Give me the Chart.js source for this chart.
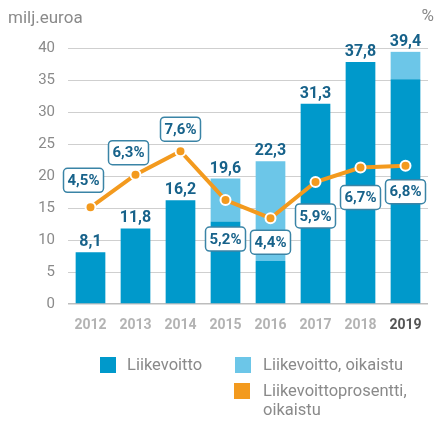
<!DOCTYPE html>
<html>
<head>
<meta charset="utf-8">
<script src="https://cdn.jsdelivr.net/npm/chart.js@4.4.1/dist/chart.umd.min.js"></script>
<style>
  body { margin: 0; background: #fff; }
  #wrap { position: relative; width: 435px; height: 423px; }
  .lg { position: absolute; font: 16.5px Roboto, sans-serif; color: #8a8a8a; line-height: 19px; }
  .sw { position: absolute; width: 16px; height: 16px; }
</style>
</head>
<body>
<div id="wrap">
  <canvas id="chart" width="435" height="423"></canvas>
  <div id="legend"></div>
</div>
<script>
const vuodet = ['2012', '2013', '2014', '2015', '2016', '2017', '2018', '2019'];
const liikevoitto = [8.1, 11.8, 16.2, 12.9, 6.7, 31.3, 37.8, 35.1];
const liikevoittoOikaistu = [0, 0, 0, 6.7, 15.6, 0, 0, 4.3];
const prosentti = [4.5, 6.3, 7.6, 4.9, 3.9, 5.9, 6.7, 6.8];
const prosenttiTekstit = ['4,5%', '6,3%', '7,6%', '5,2%', '4,4%', '5,9%', '6,7%', '6,8%'];
const sarjat = ['Liikevoitto', 'Liikevoitto, oikaistu', 'Liikevoittoprosentti, oikaistu'];
const yTicks = [0, 5, 10, 15, 20, 25, 30, 35, 40];

const tummaSininen = '#0099cb';
const vaaleaSininen = '#6cc6e8';
const oranssi = '#f39a1e';
const tekstiSininen = '#17628a';

// laatikoiden siirto pisteestä (px)
const boxDx = [-7, -7, 0, 0, 0, 0, 0, 0];
const boxDy = [-27, -22, -22, 39, 24, 34, 30, 26];

const labelsPlugin = {
    id: 'labels',
    afterDatasetsDraw(chart) {
        const ctx = chart.ctx;
        const y = chart.scales.y;
        const x = chart.scales.x;
        ctx.save();
        // yksiköt
        ctx.font = '17px Roboto';
        ctx.fillStyle = '#8a8a8a';
        ctx.textBaseline = 'alphabetic';
        ctx.textAlign = 'left';
        ctx.fillText('milj.euroa', 8, 23);
        ctx.textAlign = 'right';
        ctx.fillText('%', 434, 21);

        // pylväiden summat
        ctx.font = 'bold 16px Roboto';
        ctx.fillStyle = tekstiSininen;
        ctx.textAlign = 'center';
        vuodet.forEach((v, i) => {
            const total = liikevoitto[i] + liikevoittoOikaistu[i];
            const px = x.getPixelForValue(i);
            const py = y.getPixelForValue(total);
            ctx.fillText(total.toFixed(1).replace('.', ','), px, py - 6);
        });

        // prosenttilaatikot
        const meta = chart.getDatasetMeta(0);
        ctx.font = 'bold 15px Roboto';
        ctx.textBaseline = 'middle';
        meta.data.forEach((pt, i) => {
            const cx = pt.x + boxDx[i];
            const cy = pt.y + boxDy[i];
            const t = prosenttiTekstit[i];
            const w = ctx.measureText(t).width + 8;
            const h = 24;
            ctx.beginPath();
            ctx.roundRect(cx - w / 2, cy - h / 2, w, h, 4);
            ctx.fillStyle = '#fff';
            ctx.fill();
            ctx.lineWidth = 1.5;
            ctx.strokeStyle = '#3a84a6';
            ctx.stroke();
            ctx.fillStyle = tekstiSininen;
            ctx.fillText(t, cx, cy + 1);
        });
        ctx.restore();
    }
};

const ctx = document.getElementById('chart').getContext('2d');
new Chart(ctx, {
    type: 'bar',
    data: {
        labels: vuodet,
        datasets: [{
            type: 'line',
            label: sarjat[2],
            data: prosentti,
            yAxisID: 'y2',
            borderColor: oranssi,
            borderWidth: 4,
            pointRadius: 5,
            pointBackgroundColor: oranssi,
            pointBorderColor: '#fff',
            pointBorderWidth: 2,
            tension: 0,
            order: 0
        }, {
            label: sarjat[0],
            data: liikevoitto,
            backgroundColor: tummaSininen,
            barPercentage: 0.66,
            categoryPercentage: 1,
            order: 1
        }, {
            label: sarjat[1],
            data: liikevoittoOikaistu,
            backgroundColor: vaaleaSininen,
            barPercentage: 0.66,
            categoryPercentage: 1,
            order: 2
        }]
    },
    options: {
        responsive: false,
        animation: false,
        devicePixelRatio: 1,
        layout: { padding: { top: 48, right: 5.5, bottom: 89, left: 0 } },
        plugins: { legend: { display: false }, tooltip: { enabled: false } },
        scales: {
            x: {
                stacked: true,
                grid: { display: false, drawTicks: false },
                border: { display: false },
                ticks: {
                    padding: 13,
                    font: { family: 'Roboto', size: 14, weight: 'bold' },
                    color: c => c.index === vuodet.length - 1 ? '#555' : '#b3b3b3'
                },
                afterFit: s => { s.height = 30; }
            },
            y: {
                stacked: true,
                min: 0,
                max: 40,
                afterBuildTicks: s => { s.ticks = yTicks.map(v => ({ value: v })); },
                grid: {
                    drawTicks: false,
                    color: c => c.tick.value === 0 ? '#bdbdbd' : '#cfcfcf',
                    lineWidth: c => c.tick.value === 0 ? 1.5 : 1
                },
                border: { display: false },
                ticks: {
                    padding: 13,
                    font: { family: 'Roboto', size: 15 },
                    color: '#8a8a8a'
                },
                afterFit: s => { s.width = 68; }
            },
            y2: {
                display: false,
                min: -0.84,
                max: 13.3
            }
        }
    },
    plugins: [labelsPlugin]
});

// selite
const legend = document.getElementById('legend');
const legendItems = [
    { nimi: sarjat[0], vari: tummaSininen, sx: 100, sy: 357, tx: 127, ty: 355, w: 100 },
    { nimi: sarjat[1], vari: vaaleaSininen, sx: 235, sy: 357, tx: 263, ty: 355, w: 170 },
    { nimi: sarjat[2], vari: oranssi, sx: 234, sy: 383, tx: 263, ty: 381, w: 150 }
];
legendItems.forEach(it => {
    const sw = document.createElement('div');
    sw.className = 'sw';
    sw.style.left = it.sx + 'px';
    sw.style.top = it.sy + 'px';
    sw.style.background = it.vari;
    legend.appendChild(sw);
    const t = document.createElement('div');
    t.className = 'lg';
    t.style.left = it.tx + 'px';
    t.style.top = it.ty + 'px';
    t.style.width = it.w + 'px';
    t.textContent = it.nimi;
    legend.appendChild(t);
});
</script>
</body>
</html>
